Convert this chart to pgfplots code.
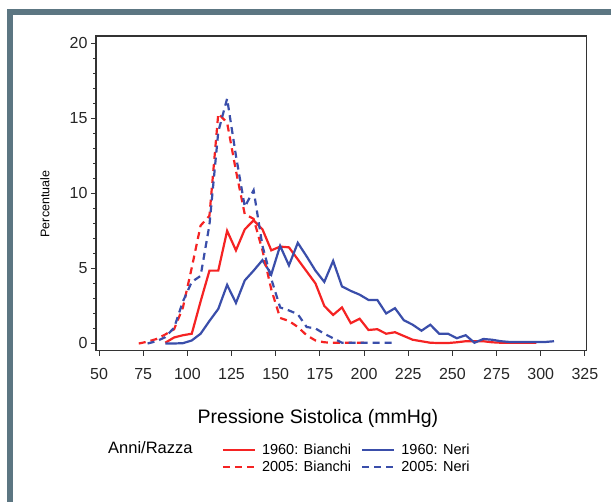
\documentclass[border=0pt]{standalone}
\usepackage{fontspec}
\setmainfont{Liberation Sans}
\usepackage{pgfplots}
\pgfplotsset{compat=1.18}
\definecolor{cred}{RGB}{245,35,35}
\definecolor{cblue}{RGB}{58,78,170}
\definecolor{framecol}{RGB}{92,118,130}

\begin{document}
\begin{tikzpicture}
\path[use as bounding box] (0pt,0pt) rectangle (611pt,-502pt);
% cornice
\fill[framecol] (7pt,-9pt) rectangle (611pt,-15pt);
\fill[framecol] (7pt,-9pt) rectangle (13pt,-502pt);
\begin{axis}[
  at={(96pt,-350.7pt)}, anchor=south west,
  width=490.7pt, height=314.7pt, scale only axis,
  xmin=48.3, xmax=326, ymin=-0.48, ymax=20.47,
  xtick={50,75,...,325}, ytick={0,5,...,20},
  minor y tick num=4,
  tick pos=left, tick align=outside,
  major tick length=5pt, minor tick length=2.7pt,
  axis line style={black!80, line width=1.1pt},
  every tick/.style={black!80, line width=1pt},
  tick label style={font=\fontsize{16}{18}\selectfont, text=black!85},
  xticklabel style={yshift=-9pt},
  /pgf/number format/assume math mode=true,
  xlabel={Pressione Sistolica (mmHg)},
  xlabel style={font=\fontsize{19.5}{22}\selectfont, at={(axis description cs:0.4524,-0.2145)}, anchor=center},
  ylabel={Percentuale},
  ylabel style={font=\fontsize{12.5}{14}\selectfont, at={(axis description cs:-0.104,0.466)}, anchor=center},
  legend columns=2,
  legend cell align=left,
  legend image code/.code={\draw[#1] (0pt,0pt) -- (32pt,0pt);},
  legend style={at={(axis description cs:0.256,-0.29)}, anchor=north west,
    draw=none, fill=none, inner sep=0pt, row sep=1pt,
    font=\fontsize{14.5}{16}\selectfont,
    /tikz/every odd column/.append style={column sep=4pt},
    /tikz/every even column/.append style={column sep=8pt}},
]
\addplot[cred, line width=2.2pt] coordinates {
  (87.5,0.05) (92.5,0.4) (97.5,0.55) (102.5,0.65) (107.5,2.8) (112.5,4.85)
  (117.5,4.85) (122.5,7.5) (127.5,6.2) (132.5,7.6) (137.5,8.2) (142.5,7.6)
  (147.5,6.2) (152.5,6.45) (157.5,6.4) (162.5,5.6) (167.5,4.8) (172.5,4.0)
  (177.5,2.5) (182.5,1.9) (187.5,2.4) (192.5,1.35) (197.5,1.65) (202.5,0.9)
  (207.5,0.95) (212.5,0.65) (217.5,0.75) (222.5,0.5) (227.5,0.25) (232.5,0.15)
  (237.5,0.05) (242.5,0.03) (247.5,0.03) (252.5,0.08) (257.5,0.15) (262.5,0.15)
  (267.5,0.15) (272.5,0.08) (277.5,0.05) (282.5,0.05) (287.5,0.05) (292.5,0.05)
  (297.5,0.05)
};
\addlegendentry{1960: Bianchi}
\addplot[cblue, line width=2.2pt] coordinates {
  (87.5,0) (92.5,0) (97.5,0.02) (102.5,0.2) (107.5,0.65) (112.5,1.5)
  (117.5,2.3) (122.5,3.9) (127.5,2.7) (132.5,4.2) (137.5,4.85) (142.5,5.55)
  (147.5,4.6) (152.5,6.5) (157.5,5.2) (162.5,6.7) (167.5,5.8) (172.5,4.85)
  (177.5,4.1) (182.5,5.5) (187.5,3.8) (192.5,3.5) (197.5,3.25) (202.5,2.9)
  (207.5,2.9) (212.5,2.0) (217.5,2.35) (222.5,1.55) (227.5,1.25) (232.5,0.85)
  (237.5,1.25) (242.5,0.65) (247.5,0.65) (252.5,0.35) (257.5,0.55) (262.5,0.05)
  (267.5,0.3) (272.5,0.25) (277.5,0.15) (282.5,0.1) (287.5,0.1) (292.5,0.1)
  (297.5,0.1) (302.5,0.1) (307.5,0.15)
};
\addlegendentry{1960: Neri}
\addplot[cred, line width=2.2pt, dash pattern=on 7pt off 5pt] coordinates {
  (72.5,0) (77.5,0.12) (82.5,0.3) (87.5,0.6) (92.5,0.95) (97.5,2.4)
  (102.5,5.05) (107.5,7.85) (112.5,8.5) (117.5,15.3) (122.5,14.7) (127.5,11.5)
  (132.5,8.6) (137.5,8.3) (142.5,6.2) (147.5,3.6) (152.5,1.7) (157.5,1.5)
  (162.5,1.1) (167.5,0.55) (172.5,0.2) (177.5,0.08) (182.5,0.05) (187.5,0.05)
  (192.5,0.05) (197.5,0.05) (202.5,0.05)
};
\addlegendentry{2005: Bianchi}
\addplot[cblue, line width=2.2pt, dash pattern=on 7pt off 5pt] coordinates {
  (77.5,0) (82.5,0.15) (87.5,0.42) (92.5,1.05) (97.5,2.8) (102.5,4.1)
  (107.5,4.5) (112.5,7.9) (117.5,14.1) (122.5,16.3) (127.5,12.5) (132.5,9.1)
  (137.5,10.2) (142.5,6.5) (147.5,4.3) (152.5,2.4) (157.5,2.2) (162.5,1.95)
  (167.5,1.1) (172.5,1.0) (177.5,0.65) (182.5,0.35) (187.5,0.05) (192.5,0.05)
  (197.5,0.05) (202.5,0.05) (207.5,0.05) (212.5,0.05) (217.5,0.05)
};
\addlegendentry{2005: Neri}
\end{axis}
\node[anchor=west, font=\fontsize{16.5}{18}\selectfont, inner sep=0pt] at (108pt,-448pt) {Anni/Razza};
\end{tikzpicture}
\end{document}
